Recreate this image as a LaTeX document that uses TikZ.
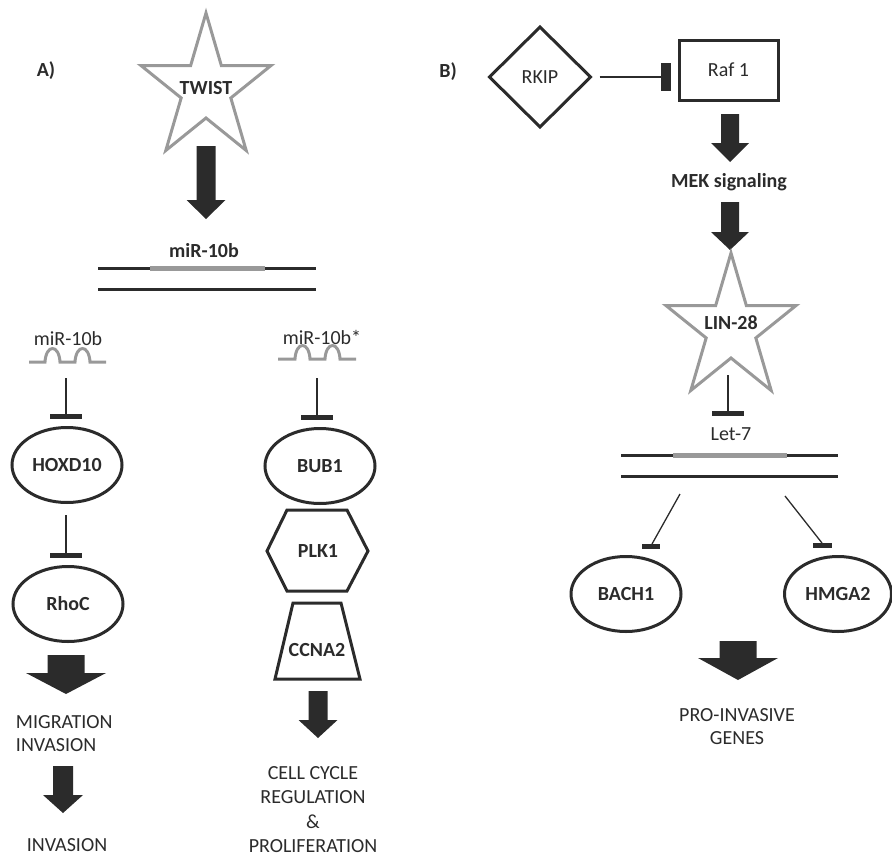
\documentclass[tikz,border=0pt]{standalone}
\usepackage{fontspec}
\setmainfont{Carlito}
\usetikzlibrary{shapes.geometric,arrows.meta}
\definecolor{dk}{HTML}{2B2B2B}
\definecolor{gr}{HTML}{999999}
\newcommand\blockarr[6]{% x, shaft half, head half, ytop, yhead, ytip
  \fill[dk] ({#1-#2},#4) -- ({#1+#2},#4) -- ({#1+#2},#5) -- ({#1+#3},#5) -- (#1,#6) -- ({#1-#3},#5) -- ({#1-#2},#5) -- cycle;}
\newcommand\starshape[2]{% centre x, centre y
  \draw[starline] (#1,{#2-76})
  \foreach \k/\rr in {1/29,2/76,3/29,4/76,5/29,6/76,7/29,8/76,9/29}
    { -- ({#1+0.9*\rr*cos(-90+36*\k)},{#2+\rr*sin(-90+36*\k)}) } -- cycle;}
\begin{document}
\begin{tikzpicture}[x=1pt,y=-1pt,
  every node/.style={font=\fontsize{20}{24}\selectfont, text=dk, inner sep=0pt, outer sep=0pt},
  bold/.style={font=\fontsize{20}{24}\selectfont\bfseries},
  gene/.style={ellipse, draw=dk, line width=3pt, minimum width=110pt, minimum height=75pt, bold},
  starline/.style={draw=gr, line width=3pt, line join=miter},
  dna/.style={draw=dk, line width=3pt},
  mirseg/.style={draw=gr, line width=5pt},
  wave/.style={draw=gr, line width=3pt},
  inh/.style={draw=dk, line width=1.3pt, -{Rectangle[length=5pt,width=32pt]}},
  thinl/.style={draw=dk, line width=1.3pt},
  outline/.style={draw=dk, line width=3pt, line join=miter}]
\useasboundingbox (0,0) rectangle (892,857);

% ---------------- Panel A ----------------
\node[bold] (labA) at (46,71) {A)};
\starshape{206}{89}
\node[bold] (twist) at (206,88) {TWIST};
\blockarr{206}{9.5}{19.5}{146}{200}{219}
\node[bold] (mir) at (204,251) {miR-10b};
\coordinate (d1a) at (98,268); \coordinate (d1b) at (316,268);
\coordinate (g1a) at (150,268); \coordinate (g1b) at (265,268);
\coordinate (d2a) at (98,289); \coordinate (d2b) at (316,289);
\draw[dna] (d1a) -- (d1b);
\draw[mirseg] (g1a) -- (g1b);
\draw[dna] (d2a) -- (d2b);

% left branch
\node (mirL) at (68,339) {miR-10b};
\draw[wave] (29,362) -- (45,362) .. controls (46,344) and (59,344) .. (60,362)
  -- (75,362) .. controls (76,344) and (89,344) .. (90,362) -- (106,362);
\coordinate (iL1) at (66,378);
\node[gene] (hox) at (67,465) {HOXD10};
\draw[inh] (iL1) -- ([yshift=8.5pt]hox.north -| iL1);
\coordinate (iL2) at (66,515);
\node[gene] (rhoc) at (68,604) {RhoC};
\draw[inh] (iL2) -- ([yshift=8.5pt]rhoc.north -| iL2);
\blockarr{66}{18.5}{40}{655}{673}{694}
\node[align=left, anchor=west, font=\fontsize{20}{23}\selectfont] (mig) at (16,733.5) {MIGRATION\\INVASION};
\blockarr{63}{10}{20}{766}{795}{813}
\node (inv) at (67,845.5) {INVASION};

% right branch
\node (mirR) at (322,337) {miR-10b*};
\draw[wave] (278,359) -- (295,359) .. controls (296,341) and (309,341) .. (310,359)
  -- (325,359) .. controls (326,341) and (339,341) .. (340,359) -- (356,359);
\coordinate (iR1) at (317,378);
\node[gene] (bub) at (320,466) {BUB1};
\draw[inh] (iR1) -- ([yshift=8.5pt]bub.north -| iR1);
\node[bold] (plk) at (318,551) {PLK1};
\draw[outline] (267,551) -- (287,510) -- (347,510) -- (368,551) -- (347,591) -- (287,591) -- cycle;
\node[bold] (ccna) at (317,650) {CCNA2};
\draw[outline] (293,603) -- (341,603) -- (360,679) -- (275,679) -- cycle;
\blockarr{318}{9.5}{19.5}{691}{720}{738}
\node[align=center, font=\fontsize{20}{24.2}\selectfont] (cc) at (313,809.5) {CELL CYCLE\\REGULATION\\\&\\PROLIFERATION};

% ---------------- Panel B ----------------
\node[bold] (labB) at (448,72) {B)};
\node[diamond, draw=dk, line width=3pt, minimum width=101pt, minimum height=100pt] (rkip) at (540,77) {RKIP};
\node[rectangle, draw=dk, line width=3pt, minimum width=99pt, minimum height=60pt] (raf) at (728.5,70) {Raf 1};
\draw[draw=dk, line width=1.3pt, -{Rectangle[length=10pt,width=28pt]}] ([xshift=9pt]rkip.east) -- ([xshift=-8pt]raf.west |- rkip.east);
\blockarr{730}{9}{19}{114}{143}{162}
\node[bold] (mek) at (729,182) {MEK signaling};
\blockarr{730}{9}{19}{202}{232}{250}
\starshape{731}{329}
\node[bold] (lin) at (731,323) {LIN-28};
\coordinate (iB1) at (728,375);
\coordinate (iB1e) at (728,415.5);
\draw[inh] (iB1) -- (iB1e);
\node (let) at (731,434) {Let-7};
\coordinate (e1a) at (621,455); \coordinate (e1b) at (838,455);
\coordinate (h1a) at (673,455); \coordinate (h1b) at (787,455);
\coordinate (e2a) at (621,476); \coordinate (e2b) at (838,476);
\draw[dna] (e1a) -- (e1b);
\draw[mirseg] (h1a) -- (h1b);
\draw[dna] (e2a) -- (e2b);

\node[gene] (bach) at (626,594) {BACH1};
\node[gene, minimum width=107pt] (hmga) at (838,594) {HMGA2};
\coordinate (s1) at (680,494); \coordinate (t1) at (652,544);
\coordinate (s2) at (785,496); \coordinate (t2) at (822,543);
\draw[thinl] (s1) -- (t1);
\fill[dk] (642,543.5) rectangle (660,548.5);
\draw[thinl] (s2) -- (t2);
\fill[dk] (813,542.5) rectangle (832,547.5);
\blockarr{738}{18.5}{40}{641}{658}{680}
\node[align=center, font=\fontsize{20}{23}\selectfont] (pro) at (737,726.5) {PRO-INVASIVE\\GENES};
\end{tikzpicture}
\end{document}
